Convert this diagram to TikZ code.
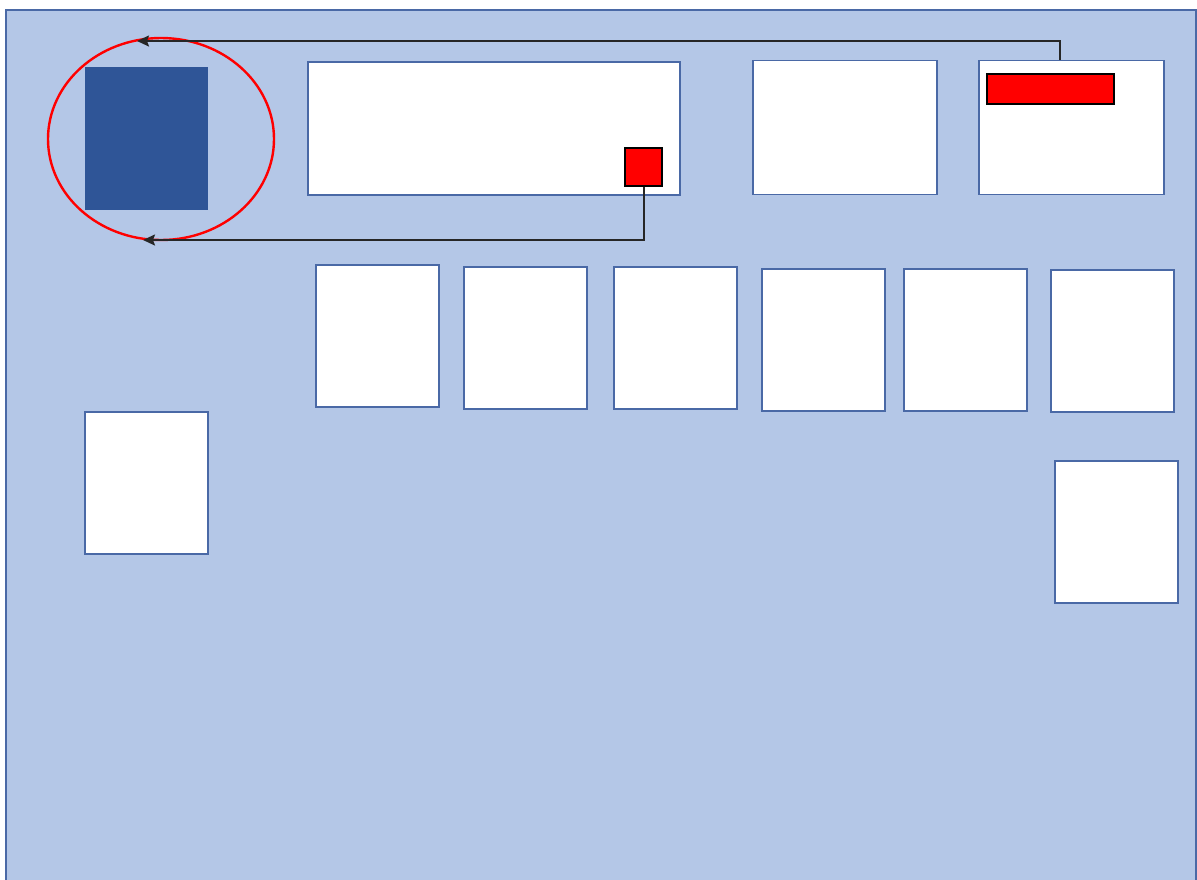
\documentclass[tikz,border=0pt]{standalone}
\usepackage{tikz}
\usetikzlibrary{positioning,arrows.meta,shapes.geometric}

\definecolor{panelblue}{HTML}{B4C7E7}
\definecolor{edgeblue}{HTML}{4A69A6}
\definecolor{darkblue}{HTML}{2F5597}

\begin{document}
\begin{tikzpicture}[
        x=1pt, y=-1pt,
        >={Stealth[length=12pt, width=11pt, inset=2pt]},
        card/.style={rectangle, draw=edgeblue, line width=1.4pt, fill=white,
                     inner sep=0pt, minimum width=123pt, minimum height=142pt},
        wide/.style={card, minimum height=134pt},
        flag/.style={rectangle, draw=black, line width=1.2pt, fill=red, inner sep=0pt},
        link/.style={->, draw=black!85, line width=2pt},
    ]
        \useasboundingbox (0,0) rectangle (1197,879);
        \fill[panelblue] (6,10) rectangle (1196,890);
        \draw[edgeblue, line width=1.5pt] (6,890) -- (6,10) -- (1196,10) -- (1196,890);

        % left column
        \node[rectangle, fill=darkblue, inner sep=0pt, minimum width=123pt,
              minimum height=143pt] (dark) at (146.5,138.5) {};
        \node[ellipse, draw=red, line width=2.4pt, minimum width=226pt,
              minimum height=202pt, inner sep=0pt] (ring) at (161,139) {};
        \node[card] (left) at (146.5,483) {};

        % top row
        \node[wide, minimum width=372pt, minimum height=133pt] (main) at (494,128.5) {};
        \node[flag, minimum width=37pt, minimum height=38pt] (sq) at (643.5,167) {};
        \node[wide, minimum width=184pt] (mid) at (845,127.5) {};
        \node[wide, minimum width=185pt] (side) at (1071.5,127.5) {};
        \node[flag, minimum width=127pt, minimum height=30pt] (bar) at (1050.5,89) {};

        % second row
        \node[card] (c1) at (377.5,336) {};
        \node[card] (c2) at (525.5,338) {};
        \node[card] (c3) at (675.5,338) {};
        \node[card] (c4) at (823.5,340) {};
        \node[card] (c5) at (965.5,340) {};
        \node[card] (c6) at (1112.5,341) {};
        \node[card] (right) at (1116.5,532) {};

        \coordinate (tipA) at (137,41);
        \coordinate (tipB) at (143,240);
        \draw[link] ([xshift=-11.5pt]side.north) |- (tipA);
        \draw[link] (sq.south) |- (tipB);
    \end{tikzpicture}
\end{document}
